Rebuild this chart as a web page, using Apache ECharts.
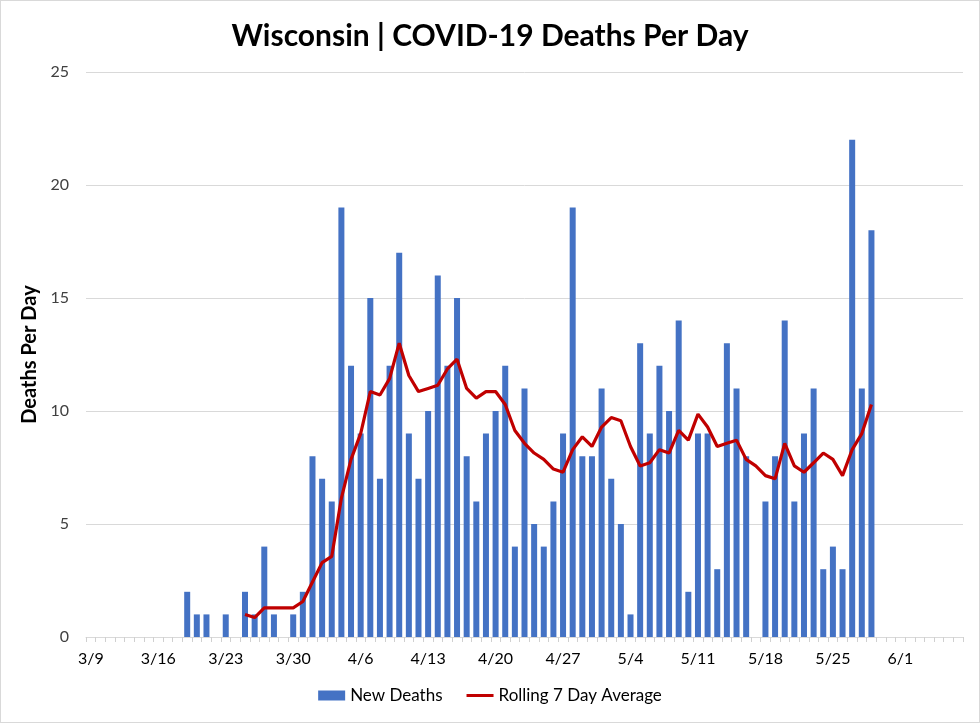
<!DOCTYPE html>
<html>
<head>
<meta charset="utf-8">
<script src="https://cdn.jsdelivr.net/npm/echarts@6/dist/echarts.min.js"></script>
<style>
html,body{margin:0;padding:0;background:#fff;}
#c{width:980px;height:723px;box-sizing:border-box;border:1px solid #d9d9d9;}
</style>
</head>
<body>
<div id="c"></div>
<script>
// Dates 3/9 .. 6/7
var categories = (function(){
  var out = [];
  var months = [[3,9,31],[4,1,30],[5,1,31],[6,1,7]];
  months.forEach(function(m){ for (var d=m[1]; d<=m[2]; d++) out.push(m[0]+'/'+d); });
  return out;
})();

// New deaths per day, 3/19 .. 5/29
var deathsStart = '3/19';
var newDeaths = [
  2,1,1,0,1,0,2,1,4,1,0,1,2,
  8,7,6,19,12,9,15,7,12,17,9,7,10,16,12,15,8,6,9,10,12,4,11,5,4,6,9,19,8,8,
  11,7,5,1,13,9,12,10,14,2,9,9,3,13,11,8,0,6,8,14,6,9,11,3,4,3,22,11,18
];

// Rolling 7 day average, 3/25 .. 5/29
var avgStart = '3/25';
var rollingAvg = [
  1.00,0.86,1.29,1.29,1.29,1.29,1.57,
  2.43,3.29,3.57,6.14,7.86,9.00,10.86,10.71,11.43,13.00,11.57,10.86,11.00,11.14,
  11.86,12.29,11.00,10.57,10.86,10.86,10.29,9.14,8.57,8.14,7.86,7.43,7.29,8.29,8.86,8.43,
  9.29,9.71,9.57,8.43,7.57,7.71,8.29,8.14,9.14,8.71,9.86,9.29,8.43,8.57,8.71,
  7.86,7.57,7.14,7.00,8.57,7.57,7.29,7.71,8.14,7.86,7.14,8.29,9.00,10.29
];

var yTicks = [0,5,10,15,20,25];

function place(arr, start){
  var out = categories.map(function(){ return null; });
  var s = categories.indexOf(start);
  arr.forEach(function(v,i){ out[s+i] = v; });
  return out;
}

var FONT = 'Lato, "Open Sans", sans-serif';
var chart = echarts.init(document.getElementById('c'), null, {renderer:'canvas'});
chart.setOption({
  animation:false,
  backgroundColor:'#ffffff',
  textStyle:{fontFamily:FONT},
  title:{
    text:'Wisconsin | COVID-19 Deaths Per Day',
    left:'center', top:15,
    textStyle:{fontSize:30, fontWeight:'bold', color:'#000', fontFamily:FONT}
  },
  grid:{left:85, right:16, top:71, bottom:85, containLabel:false},
  legend:{
    bottom:13, left:'center', itemGap:24, itemWidth:27, itemHeight:10,
    textStyle:{fontSize:17, color:'#000', fontFamily:FONT},
    data:[
      {name:'New Deaths', icon:'rect'},
      {name:'Rolling 7 Day Average', icon:'path://M0,0 L0.01,0 L0.01,0.01 Z M0,3.6 L27,3.6 L27,6.4 L0,6.4 Z M27,10 L26.99,10 L26.99,9.99 Z'}
    ]
  },
  xAxis:{
    type:'category', data:categories, boundaryGap:true,
    axisLine:{lineStyle:{color:'#d9d9d9', width:1}},
    axisTick:{show:true, interval:0, alignWithLabel:false, length:5, lineStyle:{color:'#d0d0d0'}},
    axisLabel:{interval:6, fontSize:16, color:'#000', margin:14},
    splitLine:{show:false}
  },
  yAxis:{
    type:'value', min:yTicks[0], max:yTicks[yTicks.length-1], interval:5,
    name:'Deaths Per Day', nameLocation:'middle', nameGap:46,
    nameTextStyle:{fontSize:20, fontWeight:'bold', color:'#000'},
    axisLine:{show:false}, axisTick:{show:false},
    axisLabel:{fontSize:16, color:'#404040', margin:17},
    splitLine:{lineStyle:{color:'#d9d9d9', width:1}}
  },
  series:[
    {name:'New Deaths', type:'bar', data:place(newDeaths, deathsStart), barWidth:6,
     itemStyle:{color:'#4472C4'}},
    {name:'Rolling 7 Day Average', type:'line', data:place(rollingAvg, avgStart),
     showSymbol:false, symbol:'none', connectNulls:false,
     lineStyle:{color:'#C00000', width:3.2}, itemStyle:{color:'#C00000'}, z:5}
  ]
});
</script>
</body>
</html>
